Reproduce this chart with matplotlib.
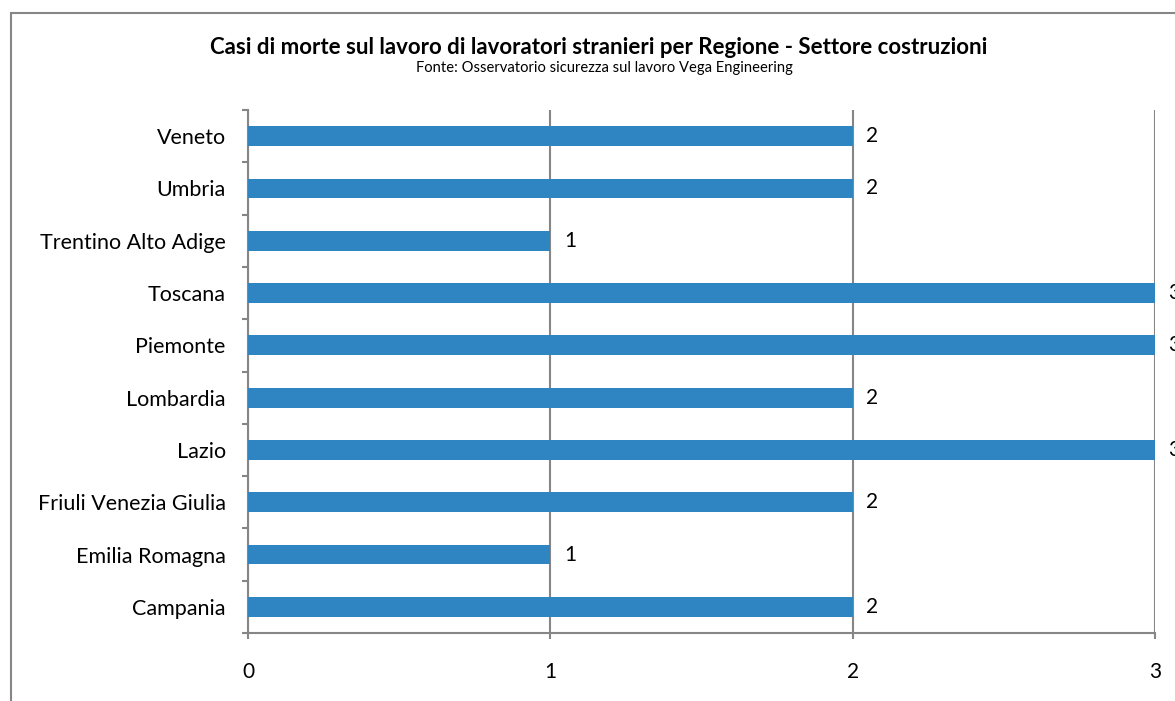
import matplotlib.pyplot as plt
from matplotlib.patches import Rectangle
import numpy as np

regions = ["Campania", "Emilia Romagna", "Friuli Venezia Giulia", "Lazio",
           "Lombardia", "Piemonte", "Toscana", "Trentino Alto Adige",
           "Umbria", "Veneto"]
cases = [2, 1, 2, 3, 2, 3, 3, 1, 2, 2]

title = "Casi di morte sul lavoro di lavoratori stranieri per Regione - Settore costruzioni"
subtitle = "Fonte: Osservatorio sicurezza sul lavoro Vega Engineering"

plt.rcParams['font.family'] = ['Lato', 'DejaVu Sans']
grey = '#868686'
bar_color = '#2E85C2'

fig = plt.figure(figsize=(11.75, 7.01), dpi=100)
ax = fig.add_axes([248 / 1175, 1 - 633 / 701, (1155 - 248) / 1175, (633 - 110) / 701])

# chart frame
fig.patches.append(Rectangle((10.5 / 1175, -0.5), 2, 0.5 + (701 - 13) / 701,
                             transform=fig.transFigure, fill=False,
                             edgecolor=grey, linewidth=1.5, clip_on=False))

y = np.arange(len(regions))
ax.barh(y, cases, height=0.38, color=bar_color, zorder=3)
for yi, v in zip(y, cases):
    ax.text(v + 0.045, yi, str(v), va='center', ha='left', fontsize=15,
            clip_on=False)

ax.set_xlim(0, 3)
ax.set_ylim(-0.5, len(regions) - 0.5)
ax.set_xticks([0, 1, 2, 3])
ax.set_yticks(y)
ax.set_yticklabels(regions)
ax.set_yticks(np.arange(-0.5, len(regions)), minor=True)
ax.tick_params(axis='y', which='major', length=0, pad=16, labelsize=15.5)
ax.tick_params(axis='y', which='minor', length=4, width=1.5, color=grey)
ax.tick_params(axis='x', length=4, width=1.5, color=grey, pad=17, labelsize=15)

ax.xaxis.grid(True, color=grey, linewidth=1.5, zorder=0)
for s in ['top', 'right']:
    ax.spines[s].set_visible(False)
for s in ['left', 'bottom']:
    ax.spines[s].set_color(grey)
    ax.spines[s].set_linewidth(1.5)

fig.text(599 / 1175, 1 - 47 / 701, title, ha='center', va='center',
         fontsize=16, fontweight='bold')
fig.text(604 / 1175, 1 - 68 / 701, subtitle, ha='center', va='center',
         fontsize=10.6)

fig.savefig('out.png', dpi=100)
